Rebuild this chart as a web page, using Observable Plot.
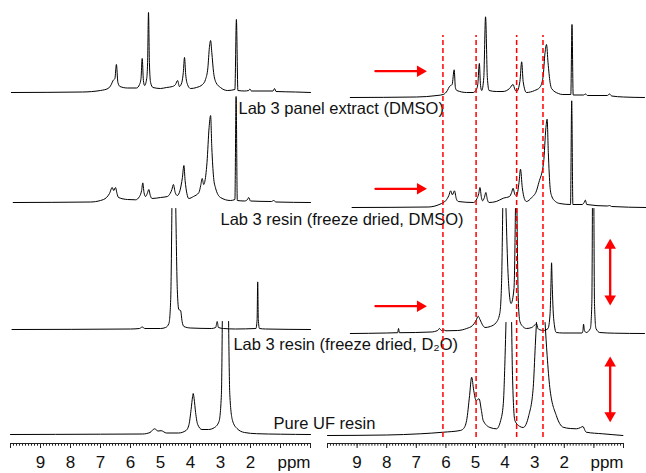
<!DOCTYPE html>
<html><head><meta charset="utf-8">
<script src="https://cdn.jsdelivr.net/npm/d3@7"></script>
<script src="https://cdn.jsdelivr.net/npm/@observablehq/plot@0.6"></script>
<style>
body{margin:0;background:#fff;}
#chart{position:relative;width:646px;height:473px;}
#chart svg{position:absolute;left:0;top:0;}
</style></head><body><div id="chart"></div>
<script>
// ---------- DATA (ppm, intensity above each trace's baseline; null = peak off scale) ----------
const tickLabels = [9, 8, 7, 6, 5, 4, 3, 2];
const spectrumNames = ["Lab 3 panel extract (DMSO)", "Lab 3 resin (freeze dried, DMSO)", "Lab 3 resin (freeze dried, D\u2082O)", "Pure UF resin"];
const markedShifts = [6.1, 4.98, 3.61, 2.72];

const leftExtract = [[9.97,0],[7.6,0.5],[7.0,2],[6.75,4],[6.64,8],[6.58,12],[6.52,14],[6.47,28],[6.42,10],[6.35,6],[6.1,4.5],[5.8,4.5],[5.7,8],[5.65,14],[5.61,34],[5.57,12],[5.53,7],[5.46,14],[5.43,30],[5.40,80],[5.37,30],[5.33,10],[5.25,5],[5.0,4],[4.8,5],[4.6,6],[4.5,8],[4.43,12],[4.37,6],[4.29,10],[4.24,20],[4.2,35],[4.16,18],[4.1,8],[4.0,4],[3.8,5],[3.6,8],[3.5,13],[3.42,25],[3.37,45],[3.33,52],[3.29,40],[3.23,20],[3.15,10],[3.0,5],[2.77,2],[2.52,3],[2.47,73],[2.42,2],[2.2,1.5],[2.06,2],[2.02,3.5],[1.97,1.5],[1.25,1.5],[1.2,4],[1.15,1],[0.5,0.5],[0,0]];
const leftResinDMSO = [[9.91,0],[7.33,0.5],[7.0,2],[6.8,5],[6.7,9],[6.61,15],[6.56,12],[6.5,15],[6.45,9],[6.4,5],[6.1,3],[5.83,2.7],[5.7,6],[5.63,12],[5.59,19.6],[5.55,10],[5.5,6],[5.44,9],[5.39,13],[5.34,7],[5.28,4],[5.0,5],[4.77,6],[4.68,9],[4.62,13],[4.57,18],[4.51,10],[4.44,7],[4.35,12],[4.27,25],[4.22,37],[4.18,22],[4.12,9],[4.06,4],[3.9,6],[3.72,10],[3.66,17],[3.61,24],[3.56,18],[3.53,20],[3.45,40],[3.38,75],[3.33,87],[3.29,55],[3.23,25],[3.17,15],[3.0,5],[2.67,2],[2.52,3],[2.48,106],[2.44,2],[2.2,1.5],[2.1,3],[2.06,5],[2.0,1.5],[1.3,1],[1.23,2],[1.15,0.5],[0,0]];
const leftResinD2O = [[9.95,0],[6.0,0.5],[5.7,1],[5.61,2.5],[5.52,1],[5.0,1],[4.83,2],[4.72,6],[4.66,30],[4.62,121],[4.555,null],[4.49,121],[4.44,40],[4.39,20],[4.33,19],[4.28,8],[4.22,3],[4.0,1.5],[3.3,1],[3.16,2],[3.11,8],[3.07,2],[2.9,1],[2.5,0.5],[1.82,1],[1.78,10],[1.76,47.6],[1.74,10],[1.7,1],[1.5,0.5],[0,0]];
const leftUF = [[10,0],[7,0.3],[5.6,0.5],[5.35,2],[5.2,5.7],[5.08,3.5],[4.98,3.8],[4.8,1.5],[4.4,1.5],[4.15,4],[4.05,10],[3.98,25],[3.93,38],[3.91,41],[3.88,36],[3.83,22],[3.76,10],[3.62,5],[3.4,5],[3.2,7],[3.05,13],[2.97,40],[2.94,113],[2.84,null],[2.73,113],[2.69,40],[2.6,14],[2.45,6],[2.2,2],[1.8,0.8],[1.0,0.3],[0,0]];

const rightExtract = [[9.23,0],[7.0,0.5],[6.3,2],[6.09,3],[5.95,7],[5.88,11],[5.79,13],[5.72,27.7],[5.68,10],[5.63,7],[5.3,5],[5.08,5],[4.97,8],[4.92,14],[4.87,34],[4.83,12],[4.79,7],[4.72,20],[4.66,80.7],[4.6,20],[4.54,7],[4.3,6],[4.07,6],[3.85,9],[3.73,13],[3.67,8],[3.61,6],[3.5,16],[3.44,35.7],[3.39,16],[3.28,5],[3.0,7],[2.83,10],[2.72,20],[2.65,45],[2.6,53],[2.55,35],[2.48,15],[2.43,9],[2.2,4],[2.05,3],[1.78,3],[1.74,73],[1.7,2.5],[1.35,2.5],[1.28,3.5],[1.22,2],[0.55,2],[0.47,3.5],[0.4,1.5],[0,0.5],[-0.71,0]];
const rightResinDMSO = [[9.17,0],[6.6,0.5],[6.2,3.3],[6.0,7],[5.9,12],[5.84,16.7],[5.78,12.7],[5.71,16.7],[5.65,9],[5.58,6],[5.07,5],[4.95,9],[4.89,14],[4.85,20],[4.8,10],[4.76,6.7],[4.7,10],[4.65,15],[4.6,8],[4.54,5],[4.3,6],[4.06,9.3],[3.85,11],[3.78,15],[3.73,19.3],[3.67,13],[3.61,11.7],[3.53,25],[3.48,38.3],[3.42,20],[3.35,9],[3.28,6],[3.1,10],[2.94,16.7],[2.86,25],[2.7,45],[2.62,80],[2.58,88.3],[2.54,55],[2.48,20],[2.43,11.7],[2.3,6],[2.15,4],[1.79,3],[1.75,106.7],[1.71,3],[1.4,3],[1.33,5],[1.29,7.4],[1.24,3],[0.55,1.5],[0.47,2],[0.4,1],[-0.75,0]];
const rightResinD2O = [[9.23,0],[8.0,0.5],[7.63,0.8],[7.6,5],[7.57,0.8],[6.5,1.5],[6.28,3],[6.22,5],[6.15,3],[6.06,3.5],[6.0,2.7],[5.6,3],[5.3,5],[5.1,8],[4.98,13],[4.91,17.3],[4.85,14],[4.75,8],[4.68,6],[4.5,7],[4.3,11],[4.18,20],[4.12,50],[4.08,125],[4.02,null],[3.97,125],[3.9,60],[3.8,30],[3.7,45],[3.65,125],[3.62,null],[3.6,125],[3.55,30],[3.5,12],[3.4,7],[3.28,5],[3.1,6],[2.98,9],[2.94,10],[2.89,5],[2.85,4],[2.7,3],[2.55,5],[2.48,20],[2.45,50],[2.43,70.7],[2.41,50],[2.36,15],[2.27,1],[2.05,0.5],[1.4,0.5],[1.37,3],[1.35,9.3],[1.32,3],[1.26,1],[1.12,5],[1.07,30],[1.05,125],[1.02,null],[1.0,125],[0.98,30],[0.93,5],[0.8,1],[0.3,0.3],[-0.71,0]];
const rightUF = [[10,0],[8,0.5],[6.87,1.7],[6.08,3.3],[5.52,5],[5.41,6.7],[5.3,15],[5.2,40],[5.13,58.3],[5.06,45],[4.98,35],[4.88,36.7],[4.8,25],[4.74,15],[4.51,8],[4.29,6.7],[4.15,15],[4.06,32],[4.0,80],[3.97,113],[3.88,null],[3.78,113],[3.75,60],[3.67,15],[3.5,9],[3.39,8],[3.2,20],[3.05,48],[2.98,90],[2.94,113],[2.8,null],[2.65,113],[2.58,80],[2.49,48],[2.27,20],[2.04,8.3],[1.8,7],[1.59,6.7],[1.45,8],[1.37,9],[1.3,5],[1.26,3.3],[0.7,1.7],[0.02,0]];

// ---------- LAYOUT (pixel-like vertical units above the axis) ----------
const leftBase = [351, 241, 114, 9];
const rightBase = [346, 236, 110, 8];
const labelPos = [[2.4, 330], [3.0, 219], [2.57, 94], [1.23, 15]];
const hArrows = [[8.38, 6.64, 372.3], [8.38, 6.64, 254.7], [8.38, 6.64, 137.3]];
const vArrows = [[0.45, 204.7, 138], [0.45, 87, 21.3]];

const FONT = "'Liberation Sans', Arial, Helvetica, sans-serif";
const minorTicks = d3.range(0, 101).map(i => i / 10);
const majorTicks = d3.range(0, 11);

function axisMarks(x1, x2) {
  return [
    Plot.ruleY([0], {x1, x2, stroke: "#222", strokeWidth: 1}),
    Plot.axisX({ticks: minorTicks, tickSize: 2.7, tickFormat: () => "", stroke: "#222"}),
    Plot.axisX({ticks: majorTicks, tickSize: 5, tickFormat: () => "", stroke: "#222"}),
    Plot.axisX({ticks: tickLabels, tickSize: 0, tickPadding: 12, fontSize: 17, fill: "#111"}),
    Plot.text(["ppm"], {frameAnchor: "bottom-right", textAnchor: "end", lineAnchor: "top", dy: 12, fontSize: 17, fill: "#111"})
  ];
}

function traces(list, bases) {
  return list.map((data, i) => Plot.line(data, {
    x: d => d[0],
    y: d => d[1] == null ? NaN : bases[i] + d[1],
    stroke: "#000", strokeWidth: 1, curve: "monotone-x"
  }));
}

const common = {
  width: 646, height: 473, marginTop: 0, marginBottom: 30,
  y: {domain: [0, 443], range: [443, 0], axis: null},
  style: {background: "transparent", fontFamily: FONT, overflow: "visible"}
};

const left = Plot.plot({
  ...common,
  marginLeft: 10, marginRight: 336,
  x: {domain: [10, 0], range: [10, 310], axis: null},
  marks: [
    ...traces([leftExtract, leftResinDMSO, leftResinD2O, leftUF], leftBase),
    Plot.text(spectrumNames, {
      x: (d, i) => labelPos[i][0], y: (d, i) => labelPos[i][1],
      textAnchor: "start", lineAnchor: "bottom", fontSize: 16.5, fill: "#111"
    }),
    ...axisMarks(10, 0)
  ]
});

const right = Plot.plot({
  ...common,
  marginLeft: 327, marginRight: 23,
  x: {domain: [10, 0], range: [327, 623], axis: null},
  marks: [
    ...traces([rightExtract, rightResinDMSO, rightResinD2O, rightUF], rightBase),
    Plot.ruleX(markedShifts, {x: d => d, y1: 6, y2: 408, stroke: "#ff0000", strokeWidth: 1.5, strokeDasharray: "5,3"}),
    Plot.arrow(hArrows, {x1: d => d[0], x2: d => d[1], y1: d => d[2], y2: d => d[2], headLength: 0, insetEnd: 6, stroke: "#ff0000", strokeWidth: 2.3}),
    Plot.dot(hArrows, {x: d => d[1], y: d => d[2], symbol: "triangle", r: 4.3, rotate: 90, dx: -6.7, fill: "#ff0000", stroke: "none"}),
    Plot.arrow(vArrows, {x1: d => d[0], x2: d => d[0], y1: d => d[1], y2: d => d[2], headLength: 0, insetStart: 6, insetEnd: 6, stroke: "#ff0000", strokeWidth: 2.3}),
    Plot.dot(vArrows, {x: d => d[0], y: d => d[1], symbol: "triangle", r: 4.3, rotate: 0, dy: 6.7, fill: "#ff0000", stroke: "none"}),
    Plot.dot(vArrows, {x: d => d[0], y: d => d[2], symbol: "triangle", r: 4.3, rotate: 180, dy: -6.7, fill: "#ff0000", stroke: "none"}),
    ...axisMarks(10, 0)
  ]
});

document.getElementById("chart").append(left, right);
</script></body></html>
